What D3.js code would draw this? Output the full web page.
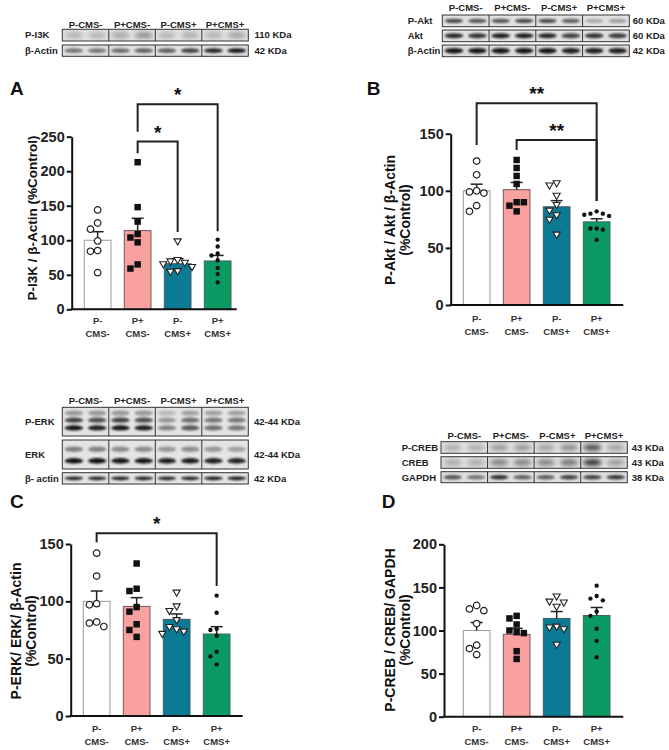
<!DOCTYPE html>
<html><head><meta charset="utf-8">
<script src="https://cdn.jsdelivr.net/npm/d3@7"></script>
<style>body{margin:0;background:#fff} text{font-family:"Liberation Sans",Arial,Helvetica,sans-serif}</style>
</head><body><svg id="c" width="669" height="750"></svg>
<script>
// ---------- data ----------
const groups = ["P-CMS-","P+CMS-","P-CMS+","P+CMS+"];
const tickLines = [["P-","CMS-"],["P+","CMS-"],["P-","CMS+"],["P+","CMS+"]];
const barColors = ["#ffffff","#f9a19f","#0b7a95","#0b9a64"];
const barStrokes = ["#9a9a9a","#6e5a59","#3d5d66","#3d6853"];
const markerTypes = ["openCircle","square","openTriangle","dot"];

// Panel A: P-I3K / β-Actin
const aTicks = [0,50,100,150,200,250];
const aMeans = [100,114,66,70];
const aSem = [12.4,17.8,7.3,8];
const aPoints = [[144,125,116,99,85,84,53],[213,148,127,109,104,97,65,59],[99,72,70,68,66,62,56,55],[101,91,81,78,71,60,51,39]];
const aBrackets = [[1,2,"*",243,226,112],[1,3,"*",297,257,113]];

// Panel B: P-Akt / Akt / β-Actin
const bTicks = [0,50,100,150];
const bMeans = [100,101,86,72.8];
const bSem = [5.8,6.3,5.4,2.7];
const bPoints = [[126,114,100,99,98,87,82],[127,120,113,106,90,90,87,82],[107,105,96,88,83,79,75,62],[82,80,80,79,78,67,67,66,57]];
const bBrackets = [[0,3,"**",176.6,140,91],[1,3,"**",144.5,135.7,91]];

// Panel C: P-ERK / ERK / β-Actin
const cTicks = [0,50,100,150];
const cMeans = [100,95.6,84.3,71.5];
const cSem = [9,7.6,4.7,6.4];
const cPoints = [[142,122,98,97,82,81,78],[133,111,109,95,91,80,75,69],[108,96,92,84,78,76,74,72],[105,90,76,75,70,56,52,45]];
const cBrackets = [[0,3,"*",159.3,151.5,113.4]];

// Panel D: P-CREB / CREB / GAPDH
const dTicks = [0,50,100,150,200];
const dMeans = [100,95.5,114,117.4];
const dSem = [9.3,7,8,9.3];
const dPoints = [[129,125,123,108,83,79,72],[117,114,107,100,98,97,76,67],[140,134,133,128,105,104,102,84],[152,140,137,135,122,117,102,88,69]];
const dBrackets = [];

// Western blot band intensities (8 lanes, 2 per group)
const blotHeaders = groups;
const pi3kBands = [[0.22,0.22,0.28,0.38,0.22,0.24,0.22,0.3]];
const actinABands = [[0.5,0.5,0.55,0.6,0.62,0.75,0.88,0.95]];
const pAktBands = [[0.72,0.65,0.66,0.72,0.7,0.6,0.25,0.3]];
const aktBands = [[0.88,0.82,0.92,0.92,0.88,0.75,0.82,0.78]];
const actinBBands = [[0.95,0.95,0.95,0.95,0.95,0.9,0.9,0.9]];
const pErkBands = [[0.35,0.35,0.35,0.35,0.2,0.3,0.3,0.3],[0.75,0.7,0.75,0.7,0.35,0.55,0.5,0.5],[0.97,0.92,0.97,0.92,0.45,0.65,0.55,0.5]];
const erkBands = [[0.45,0.45,0.4,0.4,0.35,0.4,0.35,0.3],[0.97,0.97,0.95,0.95,0.9,0.92,0.9,0.88]];
const actinCBands = [[0.9,0.9,0.92,0.92,0.9,0.9,0.95,0.95]];
const pCrebBands = [[0.25,0.25,0.35,0.35,0.3,0.42,0.7,0.3]];
const crebBands = [[0.25,0.25,0.45,0.45,0.45,0.52,0.85,0.32]];
const gapdhBands = [[0.65,0.5,0.85,0.6,0.6,0.75,0.75,0.8]];

// ---------- drawing ----------
const svg = d3.select("#c");
const defs = svg.append("defs");
defs.append("filter").attr("id","blur").attr("x","-50%").attr("y","-100%").attr("width","200%").attr("height","300%")
  .append("feGaussianBlur").attr("stdDeviation",1.1);
defs.append("filter").attr("id","blur2").attr("x","-50%").attr("y","-100%").attr("width","200%").attr("height","300%")
  .append("feGaussianBlur").attr("stdDeviation",2.2);

let clipCount = 0;
function drawBlot(cfg){
  const g = svg.append("g");
  const x = d3.scaleBand().domain(d3.range(8)).range([cfg.x, cfg.x+cfg.w]);
  const gx = d3.scaleBand().domain(blotHeaders).range([cfg.x, cfg.x+cfg.w]);
  g.selectAll("text.h").data(blotHeaders).join("text")
    .attr("x", d=>gx(d)+gx.bandwidth()/2).attr("y", cfg.headerY)
    .attr("text-anchor","middle").attr("font-size",9.5).attr("font-weight","bold").attr("fill","#222").text(d=>d);
  cfg.rows.forEach(r=>{
    const rg = g.append("g");
    const clipId = "clip"+(clipCount++);
    defs.append("clipPath").attr("id",clipId).append("rect").attr("x",cfg.x).attr("y",r.y).attr("width",cfg.w).attr("height",r.h);
    rg.append("rect").attr("x",cfg.x).attr("y",r.y).attr("width",cfg.w).attr("height",r.h).attr("fill",r.bg||"#dedede");
    const bg = rg.append("g").attr("clip-path","url(#"+clipId+")");
    r.bands.forEach((lane,bi)=>{
      const cy = r.y + r.h*r.pos[bi];
      bg.selectAll(null).data(lane).join("ellipse")
        .attr("cx",(d,i)=>x(i)+x.bandwidth()/2).attr("cy",cy)
        .attr("rx",x.bandwidth()*0.4).attr("ry",r.th)
        .attr("fill","#111").attr("opacity",d=>d)
        .attr("filter", r.soft ? "url(#blur2)" : "url(#blur)");
    });
    rg.append("rect").attr("x",cfg.x).attr("y",r.y).attr("width",cfg.w).attr("height",r.h)
      .attr("fill","none").attr("stroke","#333").attr("stroke-width",1);
    [2,4,6].forEach(k=>{
      rg.append("line").attr("x1",x(k)).attr("x2",x(k)).attr("y1",r.y).attr("y2",r.y+r.h).attr("stroke","#333").attr("stroke-width",1);
    });
    g.append("text").attr("x",cfg.labelX).attr("y",r.y+r.h/2).attr("dy","0.35em")
      .attr("font-size",9.5).attr("font-weight","bold").attr("fill","#222").text(r.label);
    g.append("text").attr("x",cfg.kdaX).attr("y",r.y+r.h/2).attr("dy","0.35em")
      .attr("font-size",9.5).attr("font-weight","bold").attr("fill","#222").text(r.kda);
  });
}

drawBlot({x:62.3,w:186,headerY:27.5,labelX:25,kdaX:254.5,rows:[
  {label:"P-I3K",kda:"110 KDa",y:29.3,h:11.7,bands:pi3kBands,pos:[0.5],th:3.2,soft:true,bg:"#e2e2e2"},
  {label:"β-Actin",kda:"42 KDa",y:45,h:11.3,bands:actinABands,pos:[0.5],th:2.3,bg:"#e0e0e0"}
]});
drawBlot({x:442.3,w:187,headerY:10.8,labelX:407.7,kdaX:632.7,rows:[
  {label:"P-Akt",kda:"60 KDa",y:15,h:11.7,bands:pAktBands,pos:[0.5],th:2.2,bg:"#e2e2e2"},
  {label:"Akt",kda:"60 KDa",y:30,h:11.7,bands:aktBands,pos:[0.5],th:2.5,bg:"#e0e0e0"},
  {label:"β-Actin",kda:"42 KDa",y:45,h:11.7,bands:actinBBands,pos:[0.5],th:2.8,bg:"#dddddd"}
]});
drawBlot({x:62.3,w:186,headerY:403.5,labelX:25,kdaX:254,rows:[
  {label:"P-ERK",kda:"42-44 KDa",y:407.3,h:28.7,bands:pErkBands,pos:[0.2,0.45,0.72],th:2.6,bg:"#e4e4e4"},
  {label:"ERK",kda:"42-44 KDa",y:440,h:29,bands:erkBands,pos:[0.32,0.72],th:2.8,bg:"#e4e4e4"},
  {label:"β- actin",kda:"42 KDa",y:472.7,h:11.3,bands:actinCBands,pos:[0.5],th:1.8,bg:"#e4e4e4"}
]});
drawBlot({x:441,w:186.3,headerY:438.5,labelX:401.7,kdaX:631.7,rows:[
  {label:"P-CREB",kda:"43 KDa",y:441.7,h:11.6,bands:pCrebBands,pos:[0.5],th:3.2,soft:true,bg:"#e2e2e2"},
  {label:"CREB",kda:"43 KDa",y:456.7,h:11.6,bands:crebBands,pos:[0.5],th:3.2,soft:true,bg:"#e0e0e0"},
  {label:"GAPDH",kda:"38 KDa",y:471.7,h:11,bands:gapdhBands,pos:[0.5],th:2.2,bg:"#dedede"}
]});

// ---------- bar panels ----------
const panels = [
  {letter:"A",lx:10,ly:95,axisX:71.7,y0:309.3,yTop:136.7,max:250,ticks:aTicks,barL:84.3,xEnd:236.7,
   means:aMeans,sem:aSem,pts:aPoints,br:aBrackets,ylab:["P-I3K / β-Actin (%Control)"],ylabX:[36.5],ylabY:218,ylabSize:13.5,xlabOff:11},
  {letter:"B",lx:366.7,ly:95,axisX:450.7,y0:305,yTop:133.7,max:150,ticks:bTicks,barL:463.3,xEnd:623.3,
   means:bMeans,sem:bSem,pts:bPoints,br:bBrackets,ylab:["P-Akt / Akt / β-Actin","(%Control)"],ylabX:[395,410],ylabY:220,ylabSize:14,xlabOff:14},
  {letter:"C",lx:10,ly:508,axisX:70.7,y0:716,yTop:544,max:150,ticks:cTicks,barL:83.3,xEnd:242.7,
   means:cMeans,sem:cSem,pts:cPoints,br:cBrackets,ylab:["P-ERK/ ERK/ β-Actin","(%Control)"],ylabX:[20.5,35.5],ylabY:631,ylabSize:14,xlabOff:13},
  {letter:"D",lx:381.7,ly:508,axisX:444,y0:716.7,yTop:544.3,max:200,ticks:dTicks,barL:463.3,xEnd:623.3,
   means:dMeans,sem:dSem,pts:dPoints,br:dBrackets,ylab:["P-CREB / CREB/ GAPDH","(%Control)"],ylabX:[395,410],ylabY:630,ylabSize:14,xlabOff:12}
];

function swarm(vals, y, cx, s){
  const placed=[];
  vals.slice().sort((a,b)=>b-a).forEach(v=>{
    const py=y(v); let dx=0;
    for(let n=0;n<30;n++){
      dx = n===0?0:(n%2?-1:1)*Math.ceil(n/2)*s;
      if(placed.every(q=>Math.hypot(q.x-(cx+dx),q.y-py)>=s)) break;
    }
    placed.push({x:cx+dx,y:py,v});
  });
  return placed;
}

const symCircle = d3.symbol().type(d3.symbolCircle).size(34);
const symSquare = d3.symbol().type(d3.symbolSquare).size(42);
const symTri = d3.symbol().type(d3.symbolTriangle).size(22);
const symDot = d3.symbol().type(d3.symbolCircle).size(15);

panels.forEach(p=>{
  const g = svg.append("g");
  const y = d3.scaleLinear().domain([0,p.max]).range([p.y0,p.yTop]);
  const x = d3.scaleBand().domain(groups).range([p.barL,p.barL+146.7]).paddingInner(0.333).paddingOuter(0);
  const bw = x.bandwidth();

  g.append("text").attr("x",p.lx).attr("y",p.ly).attr("font-size",19).attr("font-weight","bold").attr("fill","#111").text(p.letter);

  // bars
  g.selectAll("rect.bar").data(groups).join("rect").attr("class","bar")
    .attr("x",d=>x(d)).attr("width",bw)
    .attr("y",(d,i)=>y(p.means[i])).attr("height",(d,i)=>y(0)-y(p.means[i]))
    .attr("fill",(d,i)=>barColors[i]).attr("stroke",(d,i)=>barStrokes[i]).attr("stroke-width",1);

  // error bars (upper SEM)
  groups.forEach((d,i)=>{
    const cx = x(d)+bw/2;
    g.append("line").attr("x1",cx).attr("x2",cx).attr("y1",y(p.means[i])).attr("y2",y(p.means[i]+p.sem[i])).attr("stroke","#222").attr("stroke-width",1.5);
    g.append("line").attr("x1",cx-6).attr("x2",cx+6).attr("y1",y(p.means[i]+p.sem[i])).attr("y2",y(p.means[i]+p.sem[i])).attr("stroke","#222").attr("stroke-width",1.5);
  });

  // points
  groups.forEach((d,i)=>{
    const cx = x(d)+bw/2;
    const t = markerTypes[i];
    const s = t==="dot"?6.2:7.2;
    const pts = swarm(p.pts[i], y, cx, s);
    const sel = g.selectAll(null).data(pts).join("path")
      .attr("transform",q=>`translate(${q.x},${q.y})`+(t==="openTriangle"?" rotate(180)":""));
    if(t==="openCircle") sel.attr("d",symCircle).attr("fill","#fff").attr("stroke","#222").attr("stroke-width",1.2);
    if(t==="square") sel.attr("d",symSquare).attr("fill","#111");
    if(t==="openTriangle") sel.attr("d",symTri).attr("fill","#fff").attr("stroke","#222").attr("stroke-width",1.1);
    if(t==="dot") sel.attr("d",symDot).attr("fill","#111");
  });

  // y axis
  const ax = g.append("g").attr("transform",`translate(${p.axisX},0)`)
    .call(d3.axisLeft(y).tickValues(p.ticks).tickSize(5).tickSizeOuter(0).tickPadding(2));
  ax.select(".domain").attr("stroke","#111").attr("stroke-width",2);
  ax.selectAll(".tick line").attr("stroke","#111").attr("stroke-width",2);
  ax.selectAll(".tick text").attr("font-size",14.5).attr("font-weight","bold").attr("fill","#222")
    .attr("font-family","Liberation Sans, Arial, sans-serif");
  // x axis line
  g.append("line").attr("x1",p.axisX-1).attr("x2",p.xEnd).attr("y1",p.y0).attr("y2",p.y0).attr("stroke","#111").attr("stroke-width",2);

  // x tick labels
  groups.forEach((d,i)=>{
    tickLines[i].forEach((ln,k)=>{
      g.append("text").attr("x",x(d)+bw/2).attr("y",p.y0+p.xlabOff+k*13).attr("dy","0.35em")
        .attr("text-anchor","middle").attr("font-size",9.5).attr("font-weight","bold").attr("fill","#333").text(ln);
    });
  });

  // y label
  p.ylab.forEach((ln,k)=>{
    g.append("text").attr("transform",`translate(${p.ylabX[k]},${p.ylabY}) rotate(-90)`)
      .attr("text-anchor","middle").attr("font-size",p.ylabSize).attr("font-weight","bold").attr("fill","#111").text(ln);
  });

  // significance brackets
  p.br.forEach(b=>{
    const xL = x(groups[b[0]])+bw/2, xR = x(groups[b[1]])+bw/2;
    g.append("path").attr("d",`M${xL},${y(b[4])}V${y(b[3])}H${xR}V${y(b[5])}`)
      .attr("fill","none").attr("stroke","#222").attr("stroke-width",2);
    g.append("text").attr("x",(xL+xR)/2).attr("y",y(b[3])-3).attr("text-anchor","middle")
      .attr("font-size",19).attr("font-weight","bold").attr("fill","#111").text(b[2]);
  });
});
</script></body></html>
